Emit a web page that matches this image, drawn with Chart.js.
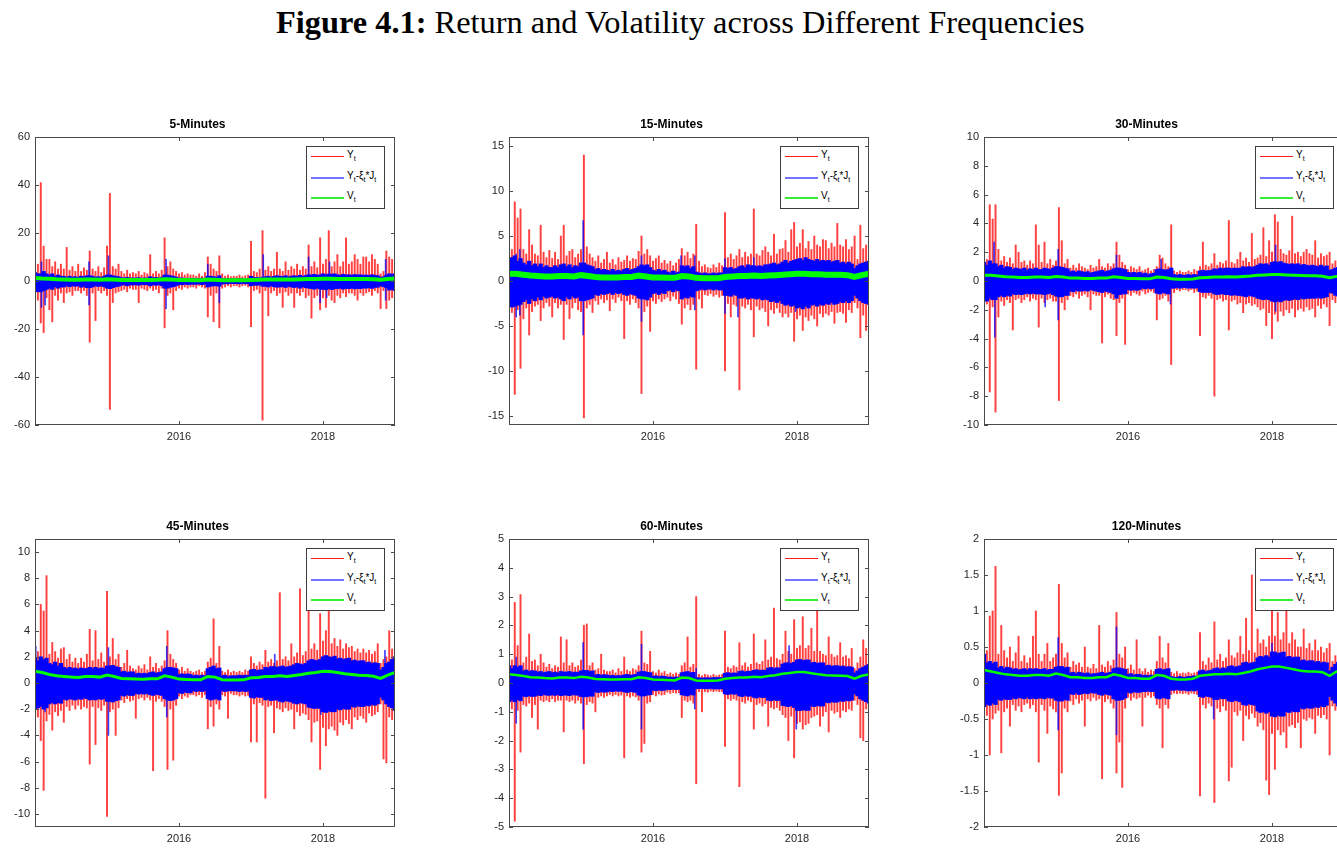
<!DOCTYPE html>
<html>
<head>
<meta charset="utf-8">
<title>Return and Volatility across Different Frequencies</title>
<script src="https://cdn.jsdelivr.net/npm/chart.js@4.4.1/dist/chart.umd.min.js"></script>
<style>
  html, body { margin: 0; padding: 0; background: #fff; width: 1337px; height: 851px; overflow: hidden; }
  #figTitle { position: absolute; top: 4px; left: 276px; white-space: nowrap; font-family: "Liberation Serif", "DejaVu Serif", serif; font-size: 28px; color: #000; }
  .panel { position: absolute; }
  .legend { position: absolute; width: 79px; height: 63px; box-sizing: border-box; border: 1px solid #3c3c3c; background: #fff;
            font-family: "Liberation Sans", Arial, sans-serif; font-size: 10px; color: #000; }
  .legend .row { position: absolute; left: 4px; right: 0; height: 12px; }
  .legend .ln { position: absolute; left: 0; width: 33px; top: 5px; }
  .legend .tx { position: absolute; left: 36px; top: -2px; white-space: nowrap; }
  .legend sub { font-size: 7px; vertical-align: -3px; line-height: 0; }
</style>
</head>
<body>
<div id="figTitle"><b>Figure 4.1:</b> Return and Volatility across Different Frequencies</div>
<script>
// volatility line sample dates (decimal years)
const sampleYears = [
  2014.0, 2014.1, 2014.2, 2014.3, 2014.4, 2014.5, 2014.6, 2014.7, 2014.8, 2014.9,
  2015.0, 2015.1, 2015.2, 2015.3, 2015.4, 2015.5, 2015.6, 2015.7, 2015.8, 2015.9,
  2016.0, 2016.1, 2016.2, 2016.3, 2016.4, 2016.5, 2016.6, 2016.7, 2016.8, 2016.9,
  2017.0, 2017.1, 2017.2, 2017.3, 2017.4, 2017.5, 2017.6, 2017.7, 2017.8, 2017.9,
  2018.0, 2018.1, 2018.2, 2018.3, 2018.4, 2018.5, 2018.6, 2018.7, 2018.8, 2018.9,
  2019.0
];
// bin dates for the return series (each bin drawn as its min..max range)
const binYears = [
  2014.00, 2014.04, 2014.08, 2014.12, 2014.16,  2014.20, 2014.24, 2014.28, 2014.32, 2014.36,
  2014.40, 2014.44, 2014.48, 2014.52, 2014.56,  2014.60, 2014.64, 2014.68, 2014.72, 2014.76,
  2014.80, 2014.84, 2014.88, 2014.92, 2014.96,  2015.00, 2015.04, 2015.08, 2015.12, 2015.16,
  2015.20, 2015.24, 2015.28, 2015.32, 2015.36,  2015.40, 2015.44, 2015.48, 2015.52, 2015.56,
  2015.60, 2015.64, 2015.68, 2015.72, 2015.76,  2015.80, 2015.84, 2015.88, 2015.92, 2015.96,
  2016.00, 2016.04, 2016.08, 2016.12, 2016.16,  2016.20, 2016.24, 2016.28, 2016.32, 2016.36,
  2016.40, 2016.44, 2016.48, 2016.52, 2016.56,  2016.60, 2016.64, 2016.68, 2016.72, 2016.76,
  2016.80, 2016.84, 2016.88, 2016.92, 2016.96,  2017.00, 2017.04, 2017.08, 2017.12, 2017.16,
  2017.20, 2017.24, 2017.28, 2017.32, 2017.36,  2017.40, 2017.44, 2017.48, 2017.52, 2017.56,
  2017.60, 2017.64, 2017.68, 2017.72, 2017.76,  2017.80, 2017.84, 2017.88, 2017.92, 2017.96,
  2018.00, 2018.04, 2018.08, 2018.12, 2018.16,  2018.20, 2018.24, 2018.28, 2018.32, 2018.36,
  2018.40, 2018.44, 2018.48, 2018.52, 2018.56,  2018.60, 2018.64, 2018.68, 2018.72, 2018.76,
  2018.80, 2018.84, 2018.88, 2018.92, 2018.96,  2019.00
];
const xTickYears = [2016, 2018];
const panelTitles = ['5-Minutes', '15-Minutes', '30-Minutes', '45-Minutes', '60-Minutes', '120-Minutes'];

// ---------- 5 minutes ----------
const m5_yTicks = [-60, -40, -20, 0, 20, 40, 60];
const m5_redMax = [10,7,41,14.5,9, 9,6,8,5,7, 5,14,4.5,6,4, 7,4,5.5,4.5,12.5, 5,4,6,3.5,5.5, 14.5,36.5,6,5,7,
  4,3,4.5,3,3.5, 3,4,2.5,3.5,3, 11,3,4,3,4.5, 18,6,8,5,4, 3,3.5,2.5,3,2.5, 2.5,2,3,2,3.5,
  10,7,5,4,10.5, 3,2,2.5,1.8,2, 2,2.5,1.8,2.2,2.5, 16.5,4,3.5,5,21, 4.5,6,4,5,12, 5,4,8,4.5,6,
  5,7,4.5,6,5, 15,6,8,5.5,18, 7,9,21,6,8, 11,6,8,18,7, 8,11,9,7,10, 10,8,11,9,7, 3,4,12.5,10,9, 8];
const m5_redMin = [-9,-8,-17.5,-21.5,-7, -12,-17,-6,-8,-5, -9,-5,-4.5,-6,-4, -4,-5,-4,-6,-25.5, -5,-16.5,-4,-5,-4, -6,-53.5,-9,-5,-4.5,
  -4,-3.5,-4.5,-3,-3.5, -3.5,-9,-3,-3.5,-4, -3,-4,-3.5,-5,-3, -19.5,-6,-5,-12,-4, -3,-3.5,-2.5,-3,-2.5, -2.5,-3,-2,-2.5,-3,
  -15,-6,-17,-5,-19.5, -3,-2.5,-2,-2.5,-2, -2,-2.5,-2,-1.8,-2.5, -19,-4,-3.5,-5,-58, -4,-14.5,-5,-4,-6, -5,-11,-4.5,-6,-5,
  -11,-5,-6,-4.5,-7, -6,-15.5,-7,-6,-12, -7,-11,-6,-8,-9, -6,-7,-5,-6.5,-5, -5,-6,-8,-5,-6, -5,-4.5,-6,-4,-5, -11.5,-4,-11.5,-8,-7, -10];
const m5_blueMax = [3.5,3,3,4,3, 2.5,3,2,2.5,2, 2,1.5,2,1.6,1.8, 1.5,2,1.8,2.2,2.2, 2,1.6,1.8,1.5,2, 2.5,2.5,2.2,2,1.8,
  1.4,1.2,1.5,1.2,1.3, 1.2,1.4,1,1.3,1.2, 1.8,1.3,1.5,1.2,1.6, 2.5,2.5,2.2,2,1.6, 1.2,1.3,1,1.2,1.1, 1,1.1,0.9,1.2,1,
  2,2,1.8,1.6,2.2, 1,0.9,1,0.8,0.9, 0.9,1,0.8,0.9,1, 2,1.4,1.5,1.3,1.6, 1.8,2,1.6,1.9,2.2, 2,1.8,2.2,1.7,2,
  2.2,2,2.4,1.9,2.3, 2.6,2.5,2.8,2.4,2.6, 3,2.6,2.9,2.8,3, 2.6,2.4,2.8,2.5,2.6, 2.4,2.7,2.5,2.6,2.3, 2.5,2.3,2.6,2.4,2.2, 1.5,1.8,2.4,3,2.8, 3];
const m5_blueMin = [-4,-4.5,-4.5,-4,-3.5, -3,-3.5,-2.5,-3,-2.5, -2.5,-2,-2.4,-2,-2.2, -2,-2.6,-2.2,-2.8,-2.8, -2.5,-2,-2.3,-2,-2.4, -3,-3.2,-2.8,-2.4,-2.2,
  -1.8,-1.5,-2,-1.6,-1.7, -1.5,-1.8,-1.4,-1.6,-1.5, -2,-1.6,-1.8,-1.5,-2, -3,-3,-2.6,-2.4,-2, -1.5,-1.6,-1.3,-1.5,-1.4, -1.3,-1.4,-1.2,-1.5,-1.3,
  -2.5,-2.2,-2,-2,-2.2, -1.3,-1.1,-1.2,-1,-1.1, -1.1,-1.2,-1,-1.1,-1.2, -2,-1.7,-1.8,-1.6,-2.2, -2.2,-2.5,-2,-2.4,-2.6, -2.5,-2.3,-2.7,-2.2,-2.5,
  -2.7,-2.5,-3,-2.4,-2.8, -3,-3.2,-3.4,-3,-3.3, -3.5,-3.6,-3.2,-3.6,-3.3, -3.2,-3,-3.4,-3.1,-3.2, -3,-3.3,-3.1,-3.2,-2.9, -3,-2.8,-3.1,-2.7,-2.6, -2,-2.4,-2.8,-3.8,-3.5, -4];
const m5_blueSpikes = [[2014.09,8],[2014.75,8],[2015.02,10.5],[2015.82,9],[2016.4,7],[2017.17,11],[2017.8,10],[2018.09,8],[2018.87,9],
  [2014.09,-11],[2014.14,-10],[2014.75,-10],[2015.82,-11.5],[2016.56,-9],[2017.96,-9],[2018.05,-7],[2018.87,-8]];
const m5_vol = [1.2,1,0.9,0.7,0.6,0.5,0.5,0.6,0.6,0.5, 0.7,0.6,0.4,0.4,0.4,0.4,0.4,0.5,0.7,0.6, 0.4,0.4,0.3,0.3,0.6,0.5,0.3,0.3,0.3,0.3, 0.4,0.5,0.6,0.6,0.6,0.6,0.6,0.7,0.8,0.8, 0.9,0.9,0.8,0.8,0.8,0.8,0.8,0.7,0.5,0.8, 1];

// ---------- 15 minutes ----------
const m15_yTicks = [-15, -10, -5, 0, 5, 10, 15];
const m15_redMax = [5.2,3.5,8.8,7,8, 3.5,3,5.7,4,3, 2.8,6.2,3.2,2.6,3.4, 2.5,3.2,2.4,5,6.2, 2.8,3.3,3.5,2.6,3, 3.5,14,3.8,3,2.6,
  2.2,2.8,2,2.4,3.2, 2,2.4,1.8,2.6,2.1, 2.3,2.8,2.2,2.5,2.4, 3.3,5,3,3.5,2.8, 2.2,2.5,2.8,2,2.3, 1.9,2.2,1.7,2,2.4,
  3.6,2.8,3.2,2.5,3, 6.3,2.2,1.6,1.8,1.5, 1.4,1.8,1.5,2,1.7, 7.6,2.6,3,2.4,2.8, 3.5,2.6,3.2,2.7,3, 8,3,2.8,3.4,3.8,
  3.2,2.8,5.2,3,3.5, 3.6,4.5,3.2,5.7,6.5, 3.8,4.2,5.7,3.6,4.4, 3.5,5,4,3.8,4.6, 4.5,3.6,4.2,3.8,6.4, 4,3.8,4.6,3.5,3.8, 5,2.4,6.2,3.6,4, 5.8];
const m15_redMin = [-3.5,-3.5,-12.6,-3.2,-9.7, -4.2,-3,-6,-3.4,-2.8, -2.6,-4.4,-3,-2.4,-2.8, -4,-2.4,-3,-2.6,-6.5, -2.6,-4.2,-3,-2.4,-3.2, -3.4,-15.2,-3,-2.6,-3.5,
  -2.2,-2.6,-2,-2.4,-2.1, -3.3,-2,-2.4,-1.8,-2.2, -6.4,-2.2,-2.6,-2,-2.4, -3,-12.5,-3.4,-2.8,-5.6, -2.2,-2.5,-2,-2.3,-2, -1.8,-2.2,-1.7,-2,-2.5,
  -4.8,-3,-2.6,-3.2,-2.6, -9.8,-2,-3,-1.5,-1.6, -1.4,-1.7,-1.5,-1.8,-1.6, -10,-2.5,-4,-2.6,-2.8, -12.1,-2.8,-3,-2.6,-3.2, -6.2,-2.8,-3.2,-3,-3.4,
  -5,-3.2,-3.6,-3,-3.5, -4,-3.6,-4,-3.5,-6.7, -4.2,-3.8,-5.5,-4,-4.4, -3.8,-4.2,-5,-3.6,-4, -3.6,-3.8,-3.4,-4.7,-3.5, -3.4,-3.6,-4.6,-3.2,-3.5, -2.4,-3,-6.3,-3.8,-5.5, -4.5];
const m15_blueMax = [2.4,2.6,2.8,2.2,2.5, 2,1.8,2.2,1.7,1.9, 1.6,1.9,1.5,1.7,1.5, 1.5,1.7,1.5,1.8,1.9, 1.6,1.8,1.5,1.7,1.6, 2,2,1.8,1.7,1.6,
  1.3,1.4,1.2,1.3,1.2, 1.1,1.3,1.1,1.2,1.1, 1.3,1.4,1.2,1.3,1.4, 1.6,1.8,1.7,1.8,1.5, 1.2,1.1,1.3,1.1,1.2, 1,0.9,1.1,0.9,1,
  1.7,1.6,1.7,1.4,1.6, 1,0.9,0.8,0.9,0.8, 0.8,0.9,0.8,0.9,0.9, 1.5,1.4,1.5,1.3,1.4, 1.6,1.7,1.5,1.8,1.7, 1.7,1.6,1.7,1.6,1.8,
  1.8,1.9,2,1.8,1.9, 2.1,2.3,2,2.2,2.3, 2.4,2.5,2.3,2.6,2.4, 2.3,2.2,2.4,2.2,2.3, 2.2,2.3,2.1,2.2,2.3, 2,2.1,1.9,2.1,1.9, 1.4,1.7,1.9,2,2.1, 2.2];
const m15_blueMin = [-2.6,-2.9,-2.8,-2.7,-2.6, -2.3,-2.1,-2.5,-2,-2.2, -1.8,-2.1,-1.7,-1.9,-1.8, -1.7,-1.9,-1.8,-2,-2.2, -1.8,-2,-1.7,-1.9,-1.8, -2.2,-2.2,-2.1,-2,-1.9,
  -1.5,-1.6,-1.4,-1.5,-1.4, -1.3,-1.5,-1.3,-1.4,-1.3, -1.5,-1.6,-1.4,-1.5,-1.6, -1.9,-2,-2,-2.1,-1.8, -1.4,-1.3,-1.5,-1.3,-1.4, -1.1,-1,-1.2,-1,-1.1,
  -2,-1.8,-1.9,-1.7,-1.8, -1.1,-1,-0.9,-1,-0.9, -0.9,-1,-0.9,-1,-1, -1.6,-1.6,-1.7,-1.5,-1.6, -1.9,-1.9,-1.8,-2,-1.9, -1.9,-2,-1.9,-2.1,-2,
  -2.1,-2.3,-2.2,-2.4,-2.2, -2.5,-2.7,-2.6,-2.8,-2.7, -3,-2.9,-3.1,-2.8,-3, -2.7,-2.6,-2.8,-2.6,-2.7, -2.5,-2.6,-2.4,-2.6,-2.5, -2.3,-2.4,-2.2,-2.4,-2.2, -1.6,-1.9,-2.2,-2.4,-2.5, -2.6];
const m15_blueSpikes = [[2014.1,3],[2014.15,3.5],[2015.03,6.7],[2015.84,2.8],[2016.39,2.8],[2016.58,2.8],[2017.0,2.5],[2017.4,2.6],
  [2014.1,-4],[2014.15,-3.8],[2015.03,-6],[2015.84,-4.5],[2016.58,-3.2],[2017.0,-3.6],[2017.18,-4],[2017.98,-3.4]];
const m15_vol = [0.8,0.8,0.7,0.6,0.55,0.5,0.5,0.55,0.55,0.5, 0.65,0.55,0.45,0.4,0.4,0.4,0.45,0.45,0.6,0.5, 0.4,0.4,0.35,0.35,0.55,0.5,0.35,0.3,0.3,0.3, 0.45,0.5,0.55,0.55,0.6,0.55,0.6,0.65,0.7,0.75, 0.8,0.8,0.75,0.75,0.7,0.7,0.7,0.65,0.45,0.65, 0.8];

// ---------- 30 minutes ----------
const m30_yTicks = [-10, -8, -6, -4, -2, 0, 2, 4, 6, 8, 10];
const m30_redMax = [1.8,1.5,5.3,4.3,5.3, 2.2,1.4,1.7,1.3,1.6, 1.2,2.5,2,1.3,1.4, 1.1,1.4,1.2,3.9,2.5, 1.3,2.7,1.2,1.5,1.1, 1.4,5.1,2.8,1.2,1.5,
  0.9,1.1,0.9,1.2,1, 0.9,0.8,1.1,0.9,1, 1.5,1,0.9,1.2,1, 1.2,2.7,1.8,1.3,1.1, 0.8,1,0.9,0.8,1, 0.7,0.8,0.9,0.7,0.8,
  1,1.8,1.6,1.2,1, 3.9,0.7,0.6,0.7,0.6, 0.6,0.7,0.6,0.8,0.7, 1,2.7,1.1,1,1.2, 1.9,1.1,1.3,1.2,1.4, 4.2,1.3,1.2,1.5,2,
  1.4,1.6,1.3,3.3,1.5, 1.6,1.8,3.7,1.7,2.8, 2,4.6,4.1,2.2,1.9, 1.8,2.1,4.5,1.9,2, 1.7,2,2.2,1.9,1.8, 2.8,1.6,1.9,1.7,1.8, 2,1.2,1.4,1.5,1.7, 1.8];
const m30_redMin = [-2.6,-1.6,-7.7,-1.8,-9.1, -2.5,-1.4,-1.7,-1.3,-1.5, -3.4,-1.3,-1.2,-1.5,-1.3, -1.1,-1.4,-1.2,-1.3,-3.2, -1.2,-1.5,-1.3,-1.2,-1.4, -1.4,-8.3,-1.5,-2,-1.3,
  -1,-1.1,-0.9,-1.2,-1, -0.9,-1.1,-2,-0.9,-1, -1,-4.3,-1.1,-0.9,-1.2, -1.3,-3.8,-1.5,-1.2,-4.4, -0.9,-1,-0.8,-0.9,-1, -0.7,-0.9,-0.8,-0.7,-0.8,
  -2.7,-1.3,-1.2,-1,-1.4, -5.8,-0.8,-0.6,-0.7,-0.6, -0.6,-0.7,-0.6,-0.8,-0.7, -3.8,-1.1,-1.2,-1,-1.2, -8,-1.3,-1.2,-1.4,-1.3, -3.4,-1.4,-1.3,-1.6,-1.5,
  -2.2,-1.6,-1.5,-1.7,-1.6, -1.8,-2,-1.9,-3.1,-2.2, -4,-2.3,-2.8,-2.1,-2.4, -2,-2.2,-1.9,-2.5,-2, -1.9,-2.1,-1.8,-2,-1.9, -2.5,-1.7,-1.9,-1.6,-1.8, -3.1,-1.3,-1.5,-1.7,-3.7, -1.9];
const m30_blueMax = [1.3,1.1,1.4,1.2,1.2, 1,1.1,0.9,1,0.95, 0.8,0.9,0.85,0.8,0.9, 0.75,0.85,0.8,0.9,0.8, 0.8,0.9,0.85,0.8,0.9, 1,1,0.95,0.9,0.85,
  0.65,0.7,0.6,0.7,0.65, 0.6,0.65,0.55,0.6,0.65, 0.7,0.75,0.65,0.7,0.75, 0.85,0.9,0.9,0.85,0.8, 0.6,0.55,0.6,0.55,0.6, 0.5,0.55,0.45,0.5,0.55,
  0.8,0.85,0.8,0.75,0.8, 0.9,0.45,0.4,0.45,0.4, 0.4,0.45,0.4,0.45,0.42, 0.7,0.75,0.7,0.72,0.75, 0.85,0.8,0.9,0.85,0.9, 0.9,0.85,0.9,0.88,0.9,
  1,0.95,1,0.95,1, 1.1,1.2,1.15,1.2,1.1, 1.3,1.35,1.3,1.35,1.25, 1.2,1.15,1.2,1.15,1.2, 1.1,1.15,1.1,1.05,1.1, 1.05,1,1.1,1,1.05, 0.75,0.8,0.9,0.95,1.1, 1.2];
const m30_blueMin = [-1.3,-1.4,-1.2,-1.3,-1.3, -1.1,-1,-1.1,-1,-1.05, -0.9,-0.95,-0.9,-0.95,-0.9, -0.85,-0.9,-0.85,-0.9,-0.9, -0.9,-0.95,-0.9,-0.85,-0.95, -1.05,-1.1,-1.1,-1,-1,
  -0.7,-0.75,-0.65,-0.7,-0.7, -0.65,-0.7,-0.6,-0.65,-0.7, -0.75,-0.8,-0.7,-0.75,-0.8, -0.9,-1.2,-0.95,-0.9,-0.9, -0.6,-0.65,-0.6,-0.65,-0.6, -0.5,-0.55,-0.5,-0.55,-0.5,
  -0.85,-0.9,-0.8,-0.85,-0.9, -0.5,-0.5,-0.45,-0.5,-0.45, -0.45,-0.5,-0.48,-0.5,-0.48, -0.75,-0.8,-0.78,-0.8,-0.78, -0.9,-0.95,-0.9,-0.9,-0.95, -0.95,-1,-0.95,-1,-1,
  -1.05,-1.1,-1,-1.05,-1.1, -1.2,-1.25,-1.3,-1.25,-1.3, -1.4,-1.45,-1.4,-1.45,-1.35, -1.3,-1.35,-1.3,-1.25,-1.3, -1.2,-1.25,-1.2,-1.2,-1.2, -1.2,-1.15,-1.2,-1.15,-1.1, -0.8,-0.85,-1,-1.05,-1.2, -1.3];
const m30_blueSpikes = [[2014.14,2.7],[2015.03,2.2],[2015.84,1.8],[2016.46,1.5],[2018.05,2.5],
  [2014.15,-3.9],[2014.85,-1.8],[2015.03,-2.7],[2016.59,-1.6],[2018.05,-2.1]];
const m30_vol = [0.4,0.4,0.35,0.3,0.28,0.25,0.25,0.28,0.28,0.25, 0.32,0.28,0.2,0.2,0.18,0.18,0.2,0.2,0.3,0.25, 0.18,0.17,0.16,0.15,0.27,0.24,0.15,0.13,0.13,0.14, 0.22,0.25,0.28,0.28,0.3,0.28,0.32,0.35,0.4,0.42, 0.45,0.45,0.42,0.4,0.38,0.37,0.36,0.33,0.22,0.32, 0.4];

// ---------- 45 minutes ----------
const m45_yTicks = [-10, -8, -6, -4, -2, 0, 2, 4, 6, 8, 10];
const m45_redMax = [3.6,2.4,6,5.5,8.2, 2.2,3.1,2.4,1.9,2.6, 2.7,1.8,2.2,1.6,1.9, 1.5,1.9,1.6,2.2,4.1, 1.7,4,1.8,2.3,1.6, 7,2,3.4,1.8,2.2,
  1.2,1.5,2.5,1.3,1.1, 1,1.3,1.1,1.4,1, 2,1.2,1.5,1.1,1.3, 1.7,4,2.2,1.8,1.5, 1,1.2,0.9,1.1,0.9, 0.8,0.9,1,0.8,0.9,
  1.6,1.9,4.9,1.5,2.8, 0.9,0.8,1,0.8,0.9, 0.8,0.9,0.8,1,0.9, 2,1.5,1.3,1.6,1.4, 2.5,1.6,1.8,1.5,1.7, 6.9,1.8,2,1.7,3,
  2,2.3,7.2,2.1,2.4, 6,2.6,3,2.5,5.3, 3.2,4,6.6,3,3.4, 2.8,3.3,2.6,3,2.7, 2.8,2.4,2.6,2.3,2.6, 2.3,2.5,2.2,2.4,3, 1.5,1.8,2,4,2.6, 4];
const m45_redMin = [-2.7,-2.6,-4.4,-8.2,-2.9, -2.4,-3.6,-2.2,-2.5,-2.1, -3,-1.8,-2.1,-1.7,-2, -1.7,-2,-1.8,-1.9,-6.2, -1.8,-4.7,-1.9,-2.1,-1.7, -10.2,-2.2,-2,-4,-1.9,
  -1.3,-1.5,-1.2,-1.4,-1.3, -2.7,-1.2,-1.1,-1.3,-1.1, -1.3,-6.7,-1.4,-1.2,-1.4, -1.8,-6.6,-2,-5.9,-1.7, -1,-1.2,-1,-1.1,-0.9, -0.9,-1,-0.9,-1.1,-0.9,
  -3.5,-1.8,-3.3,-1.6,-2, -0.9,-1,-2.7,-0.8,-0.9, -0.9,-1,-0.9,-1,-0.95, -4.5,-1.6,-4.5,-1.5,-1.7, -8.8,-1.8,-1.7,-3.8,-1.9, -2,-2.2,-1.9,-2.1,-2,
  -3.5,-2.2,-2.5,-2.3,-2.4, -2.8,-4.5,-3,-2.9,-6.6, -3.4,-4.8,-3.5,-3.3,-3.6, -4,-3,-3.2,-2.8,-3.1, -3.5,-2.6,-2.8,-2.5,-2.7, -3,-2.3,-2.5,-2.4,-2.2, -1.6,-5.8,-6.1,-2.6,-2.8, -3];
const m45_blueMax = [1.9,1.7,2,1.8,1.9, 1.5,1.4,1.6,1.3,1.5, 1.2,1.1,1.2,1.1,1.15, 1.05,1.15,1.1,1.1,1.2, 1.1,1.2,1.1,1.15,1.1, 1.3,1.3,1.35,1.25,1.2,
  0.85,0.9,0.8,0.85,0.85, 0.7,0.75,0.7,0.75,0.7, 0.8,0.85,0.75,0.8,0.85, 1.1,1.2,1.2,1.15,1.1, 0.65,0.7,0.65,0.7,0.65, 0.55,0.6,0.55,0.6,0.55,
  1.1,1.2,1.3,1.1,1.15, 0.55,0.6,0.5,0.55,0.55, 0.55,0.6,0.55,0.6,0.58, 1,1.05,0.95,1,1, 1.2,1.15,1.25,1.25,1.2, 1.25,1.3,1.2,1.25,1.3,
  1.4,1.5,1.45,1.4,1.5, 1.7,1.8,1.75,1.7,1.8, 2,2.1,2,1.95,2.05, 1.85,1.9,1.8,1.85,1.9, 1.7,1.75,1.65,1.7,1.7, 1.55,1.6,1.5,1.55,1.5, 1,1.2,1.5,1.6,1.8, 2];
const m45_blueMin = [-2,-1.9,-1.8,-2,-1.9, -1.6,-1.5,-1.6,-1.5,-1.55, -1.25,-1.3,-1.2,-1.25,-1.3, -1.2,-1.25,-1.15,-1.2,-1.3, -1.25,-1.3,-1.2,-1.25,-1.2, -1.4,-1.4,-1.45,-1.35,-1.3,
  -0.95,-1,-0.9,-0.95,-0.95, -0.8,-0.85,-0.8,-0.85,-0.8, -0.9,-0.95,-0.85,-0.9,-0.95, -1.2,-1.3,-1.35,-1.3,-1.2, -0.75,-0.8,-0.7,-0.75,-0.75, -0.6,-0.65,-0.6,-0.65,-0.6,
  -1.2,-1.3,-1.25,-1.2,-1.3, -0.6,-0.65,-0.6,-0.6,-0.6, -0.6,-0.65,-0.6,-0.65,-0.62, -1.1,-1.15,-1.05,-1.1,-1.1, -1.3,-1.25,-1.35,-1.3,-1.3, -1.4,-1.45,-1.35,-1.4,-1.45,
  -1.55,-1.6,-1.5,-1.55,-1.6, -1.85,-1.9,-1.95,-1.9,-1.95, -2.2,-2.25,-2.15,-2.2,-2.2, -2,-2.05,-1.95,-2,-2, -1.8,-1.85,-1.75,-1.8,-1.8, -1.7,-1.75,-1.65,-1.7,-1.6, -1.1,-1.3,-1.6,-1.8,-1.9, -2.1];
const m45_blueSpikes = [[2014.01,2.8],[2015.02,2.7],[2015.83,2.8],[2017.33,2.2],[2018.08,2],[2018.86,2.5],
  [2014.14,-2.2],[2015.02,-4],[2015.83,-2.6],[2017.97,-2.4]];
const m45_vol = [0.9,0.8,0.65,0.55,0.5,0.45,0.42,0.5,0.5,0.45, 0.6,0.5,0.35,0.32,0.3,0.28,0.32,0.32,0.55,0.45, 0.3,0.27,0.25,0.24,0.5,0.45,0.25,0.22,0.22,0.24, 0.4,0.42,0.5,0.5,0.55,0.5,0.58,0.65,0.75,0.8, 0.9,0.88,0.8,0.7,0.65,0.6,0.58,0.52,0.35,0.6, 0.8];

// ---------- 60 minutes ----------
const m60_yTicks = [-5, -4, -3, -2, -1, 0, 1, 2, 3, 4, 5];
const m60_redMax = [1.2,0.8,2.8,1.3,3.07, 0.7,0.9,1.7,0.75,0.8, 0.6,1,0.7,0.55,0.65, 0.5,0.6,0.55,1.6,0.7, 1.5,0.6,0.7,0.55,0.6, 0.8,2,2.05,0.6,0.7,
  0.45,0.5,1,0.45,0.4, 0.4,0.45,0.35,0.5,0.4, 0.9,0.45,0.4,0.5,0.45, 0.6,1.8,0.7,0.65,1.1, 0.4,0.35,0.45,0.35,0.4, 0.3,0.35,0.3,0.35,0.3,
  0.6,0.7,1.6,0.55,0.65, 3,0.3,0.25,0.3,0.28, 0.25,0.3,0.25,0.28,0.3, 1.8,0.55,0.5,0.6,0.55, 1.4,0.6,0.7,0.55,0.65, 1.7,0.7,0.65,0.75,1.5,
  0.8,0.9,2.6,0.85,0.8, 1,1.8,1.1,1,2.2, 1.2,1.3,2.3,1.2,1.3, 1.9,1.1,2.9,1.1,1, 0.95,1.6,1,0.9,0.95, 1.4,0.9,0.95,0.85,1.2, 0.5,0.7,0.9,1.5,1.2, 1.5];
const m60_redMin = [-1.5,-0.9,-4.8,-0.95,-2.4, -0.75,-0.8,-0.7,-1.2,-0.75, -1.6,-0.6,-0.65,-0.6,-0.65, -0.55,-0.65,-0.6,-0.6,-1.7, -0.6,-0.65,-0.6,-0.7,-0.6, -0.7,-2.8,-0.75,-0.65,-0.7,
  -1,-0.5,-0.45,-0.5,-0.45, -0.4,-0.45,-0.4,-0.45,-0.42, -2.6,-0.45,-0.5,-0.45,-0.48, -0.6,-2.4,-2.1,-0.7,-0.65, -0.4,-0.45,-0.38,-0.42,-0.4, -0.32,-0.36,-0.33,-0.35,-0.34,
  -1.2,-0.6,-0.65,-0.6,-0.7, -3.5,-0.3,-1,-0.3,-0.32, -0.28,-0.3,-0.28,-0.3,-0.3, -2.2,-0.55,-0.6,-0.55,-0.6, -3.6,-0.65,-0.7,-0.6,-0.65, -1.6,-0.75,-0.7,-0.8,-0.72,
  -1.5,-0.85,-0.9,-0.85,-0.95, -1.1,-1.2,-2,-1.15,-2.6, -1.4,-1.35,-1.6,-1.45,-1.4, -1.2,-1.15,-1.1,-1.5,-1.15, -1,-1.7,-0.95,-1.05,-1, -1.2,-0.95,-1,-0.9,-0.95, -0.6,-0.75,-1.9,-2,-0.9, -1.4];
const m60_blueMax = [0.6,0.5,0.6,0.55,0.6, 0.42,0.45,0.4,0.43,0.42, 0.38,0.4,0.36,0.38,0.4, 0.36,0.38,0.35,0.4,0.38, 0.38,0.4,0.36,0.38,0.37, 0.42,0.44,0.44,0.4,0.42,
  0.28,0.3,0.27,0.29,0.28, 0.25,0.27,0.24,0.26,0.25, 0.28,0.3,0.27,0.28,0.3, 0.38,0.4,0.4,0.37,0.36, 0.23,0.25,0.22,0.24,0.23, 0.2,0.21,0.19,0.21,0.2,
  0.36,0.38,0.4,0.36,0.37, 0.18,0.18,0.17,0.18,0.18, 0.17,0.19,0.18,0.19,0.18, 0.34,0.36,0.33,0.35,0.34, 0.4,0.42,0.38,0.41,0.4, 0.44,0.46,0.43,0.45,0.44,
  0.52,0.54,0.5,0.53,0.52, 0.66,0.7,0.7,0.68,0.72, 0.8,0.82,0.78,0.8,0.8, 0.7,0.72,0.68,0.7,0.7, 0.6,0.62,0.58,0.6,0.6, 0.57,0.59,0.55,0.57,0.55, 0.35,0.42,0.5,0.55,0.6, 0.65];
const m60_blueMin = [-0.65,-0.6,-0.65,-0.58,-0.62, -0.46,-0.48,-0.44,-0.47,-0.46, -0.42,-0.44,-0.4,-0.42,-0.43, -0.41,-0.43,-0.4,-0.44,-0.42, -0.42,-0.44,-0.4,-0.42,-0.42, -0.47,-0.48,-0.48,-0.45,-0.46,
  -0.31,-0.33,-0.3,-0.32,-0.31, -0.28,-0.3,-0.27,-0.29,-0.28, -0.31,-0.33,-0.3,-0.31,-0.33, -0.42,-0.45,-0.45,-0.42,-0.41, -0.25,-0.27,-0.24,-0.26,-0.25, -0.22,-0.23,-0.21,-0.23,-0.22,
  -0.41,-0.43,-0.45,-0.4,-0.42, -0.2,-0.2,-0.19,-0.2,-0.2, -0.19,-0.21,-0.2,-0.21,-0.2, -0.38,-0.4,-0.37,-0.39,-0.38, -0.45,-0.47,-0.43,-0.46,-0.45, -0.5,-0.52,-0.48,-0.51,-0.5,
  -0.6,-0.62,-0.58,-0.61,-0.6, -0.78,-0.8,-0.82,-0.79,-0.85, -0.95,-0.96,-0.93,-0.95,-0.95, -0.8,-0.82,-0.78,-0.8,-0.8, -0.67,-0.69,-0.65,-0.67,-0.66, -0.62,-0.64,-0.6,-0.62,-0.6, -0.38,-0.45,-0.55,-0.6,-0.65, -0.7];
const m60_blueSpikes = [[2014.1,0.9],[2015.03,1.4],[2015.84,1.35],[2016.6,0.5],[2017.89,1.3],
  [2014.1,-1.4],[2015.03,-1.6],[2015.84,-1.6],[2016.58,-0.9],[2017.99,-1.6]];
const m60_vol = [0.3,0.28,0.24,0.2,0.19,0.17,0.16,0.19,0.19,0.17, 0.22,0.19,0.14,0.13,0.12,0.12,0.13,0.13,0.2,0.17, 0.12,0.11,0.1,0.09,0.19,0.17,0.09,0.08,0.08,0.09, 0.15,0.17,0.19,0.19,0.22,0.2,0.24,0.27,0.32,0.35, 0.38,0.38,0.34,0.3,0.27,0.26,0.25,0.24,0.15,0.25, 0.3];

// ---------- 120 minutes ----------
const m120_yTicks = [-2, -1.5, -1, -0.5, 0, 0.5, 1, 1.5, 2];
const m120_redMax = [0.7,0.45,0.93,1,1.62, 0.4,0.8,0.45,0.35,0.5, 0.3,0.42,0.65,0.3,0.38, 0.28,0.35,0.65,1,0.4, 0.3,0.4,0.55,0.3,0.35, 0.4,1.37,0.55,0.35,0.42,
  0.22,0.3,0.25,0.28,0.22, 0.5,0.22,0.2,0.26,0.2, 0.8,0.25,0.22,0.3,0.24, 0.32,0.98,0.4,0.35,0.5, 0.2,0.25,0.18,0.6,0.2, 0.16,0.2,0.15,0.18,0.16,
  0.3,0.65,0.35,0.28,0.55, 0.15,0.13,0.16,0.13,0.14, 0.13,0.15,0.13,0.14,0.15, 0.7,0.3,0.25,0.35,0.28, 0.85,0.32,0.4,0.3,0.35, 0.6,0.38,0.35,0.42,0.65,
  0.4,0.9,0.45,1.5,0.42, 0.75,0.55,0.6,0.5,0.65, 1,0.65,0.98,0.6,0.7, 1.05,0.55,0.7,0.6,0.5, 0.5,0.75,0.48,0.55,0.45, 0.6,0.45,0.5,0.42,0.48, 0.55,0.3,0.38,0.45,0.95, 0.5];
const m120_redMin = [-0.78,-0.45,-1,-0.5,-0.42, -0.38,-0.97,-0.4,-0.35,-0.6, -0.3,-0.38,-0.32,-0.4,-0.3, -0.28,-0.35,-0.3,-0.4,-1.1, -0.3,-0.38,-0.7,-0.32,-0.36, -0.4,-1.56,-1.25,-0.35,-0.4,
  -0.25,-0.3,-0.22,-0.28,-0.24, -0.6,-0.22,-0.25,-0.2,-0.24, -0.22,-1.33,-0.26,-0.22,-0.28, -0.35,-1.25,-0.82,-1.45,-0.35, -0.2,-0.24,-0.2,-0.22,-0.2, -0.6,-0.2,-0.17,-0.2,-0.18,
  -0.3,-0.35,-0.9,-0.3,-0.35, -0.16,-0.14,-0.15,-0.14,-0.15, -0.14,-0.16,-0.14,-0.15,-0.16, -1.57,-0.3,-0.35,-0.28,-0.32, -1.66,-0.35,-0.4,-0.32,-0.38, -1.36,-1.17,-0.4,-0.45,-0.38,
  -0.8,-0.45,-0.5,-0.42,-0.48, -0.6,-0.55,-0.65,-1.35,-1.55, -0.7,-1.2,-0.65,-0.72,-0.68, -0.9,-0.6,-0.58,-0.62,-0.55, -0.9,-0.5,-0.52,-0.48,-0.5, -0.7,-0.45,-0.48,-0.44,-0.5, -1,-0.32,-0.38,-0.42,-0.78, -0.55];
const m120_blueMax = [0.4,0.28,0.3,0.27,0.29, 0.21,0.23,0.2,0.22,0.21, 0.19,0.2,0.18,0.19,0.2, 0.18,0.2,0.19,0.2,0.19, 0.19,0.2,0.18,0.19,0.19, 0.22,0.23,0.23,0.21,0.22,
  0.14,0.15,0.13,0.15,0.14, 0.13,0.14,0.12,0.13,0.13, 0.14,0.15,0.13,0.14,0.15, 0.2,0.21,0.21,0.2,0.19, 0.12,0.13,0.11,0.12,0.12, 0.1,0.11,0.1,0.11,0.1,
  0.19,0.2,0.18,0.19,0.2, 0.09,0.08,0.08,0.09,0.08, 0.08,0.09,0.09,0.1,0.09, 0.17,0.18,0.16,0.17,0.18, 0.2,0.21,0.19,0.21,0.2, 0.23,0.24,0.22,0.23,0.24,
  0.28,0.29,0.27,0.28,0.29, 0.35,0.37,0.36,0.38,0.36, 0.43,0.43,0.41,0.42,0.43, 0.36,0.37,0.35,0.36,0.36, 0.31,0.32,0.3,0.31,0.31, 0.29,0.3,0.28,0.29,0.28, 0.17,0.22,0.26,0.29,0.31, 0.33];
const m120_blueMin = [-0.33,-0.3,-0.31,-0.28,-0.3, -0.23,-0.24,-0.22,-0.23,-0.23, -0.21,-0.22,-0.2,-0.21,-0.22, -0.2,-0.22,-0.21,-0.22,-0.21, -0.21,-0.22,-0.2,-0.21,-0.21, -0.24,-0.25,-0.25,-0.23,-0.24,
  -0.15,-0.16,-0.14,-0.16,-0.15, -0.14,-0.15,-0.13,-0.14,-0.14, -0.16,-0.17,-0.15,-0.16,-0.17, -0.22,-0.24,-0.24,-0.23,-0.21, -0.13,-0.14,-0.12,-0.13,-0.13, -0.12,-0.12,-0.11,-0.12,-0.12,
  -0.21,-0.22,-0.2,-0.21,-0.22, -0.1,-0.1,-0.09,-0.1,-0.1, -0.1,-0.11,-0.1,-0.11,-0.1, -0.19,-0.2,-0.18,-0.19,-0.2, -0.23,-0.23,-0.21,-0.22,-0.22, -0.25,-0.26,-0.24,-0.25,-0.26,
  -0.3,-0.31,-0.29,-0.3,-0.31, -0.39,-0.41,-0.4,-0.42,-0.4, -0.46,-0.47,-0.45,-0.46,-0.46, -0.4,-0.41,-0.39,-0.4,-0.4, -0.35,-0.36,-0.34,-0.35,-0.35, -0.33,-0.34,-0.32,-0.33,-0.31, -0.19,-0.24,-0.28,-0.32,-0.34, -0.36];
const m120_blueSpikes = [[2014.0,0.45],[2015.03,0.63],[2015.84,0.78],[2018.0,0.55],
  [2015.03,-0.65],[2015.84,-0.72],[2017.19,-0.5]];
const m120_vol = [0.18,0.16,0.14,0.12,0.11,0.1,0.1,0.11,0.11,0.1, 0.13,0.11,0.08,0.08,0.07,0.07,0.08,0.08,0.12,0.1, 0.07,0.07,0.06,0.06,0.11,0.1,0.06,0.05,0.05,0.06, 0.1,0.11,0.12,0.12,0.13,0.12,0.14,0.16,0.19,0.21, 0.23,0.23,0.21,0.19,0.17,0.16,0.16,0.15,0.1,0.16, 0.18];

// panel table for the library (left/top = plot-area corner in page pixels)
const panels = [
  { left: 35,  top: 137, yMin: -60, yMax: 60, yTicks: m5_yTicks,   volWidth: 4,   redMax: m5_redMax,   redMin: m5_redMin,   blueMax: m5_blueMax,   blueMin: m5_blueMin,   blueSpikes: m5_blueSpikes,   vol: m5_vol },
  { left: 509, top: 137, yMin: -16, yMax: 16, yTicks: m15_yTicks,  volWidth: 6,   redMax: m15_redMax,  redMin: m15_redMin,  blueMax: m15_blueMax,  blueMin: m15_blueMin,  blueSpikes: m15_blueSpikes,  vol: m15_vol },
  { left: 984, top: 137, yMin: -10, yMax: 10, yTicks: m30_yTicks,  volWidth: 3,   redMax: m30_redMax,  redMin: m30_redMin,  blueMax: m30_blueMax,  blueMin: m30_blueMin,  blueSpikes: m30_blueSpikes,  vol: m30_vol },
  { left: 35,  top: 539, yMin: -11, yMax: 11, yTicks: m45_yTicks,  volWidth: 3,   redMax: m45_redMax,  redMin: m45_redMin,  blueMax: m45_blueMax,  blueMin: m45_blueMin,  blueSpikes: m45_blueSpikes,  vol: m45_vol },
  { left: 509, top: 539, yMin: -5,  yMax: 5,  yTicks: m60_yTicks,  volWidth: 2.5, redMax: m60_redMax,  redMin: m60_redMin,  blueMax: m60_blueMax,  blueMin: m60_blueMin,  blueSpikes: m60_blueSpikes,  vol: m60_vol },
  { left: 984, top: 539, yMin: -2,  yMax: 2,  yTicks: m120_yTicks, volWidth: 2.5, redMax: m120_redMax, redMin: m120_redMin, blueMax: m120_blueMax, blueMin: m120_blueMin, blueSpikes: m120_blueSpikes, vol: m120_vol }
];

const PLOT_W = 360, PLOT_H = 288, AXIS_W = 35, TITLE_H = 25, XAXIS_H = 20;
const axisFont = { family: '"Liberation Sans", Arial, sans-serif', size: 11 };

function line(ys) {
  return sampleYears.map((x, i) => ({ x: x, y: ys[i] }));
}
function ranges(lo, hi) {
  return binYears.map((x, i) => ({ x: x, y: [lo[i], hi[i]] }));
}
function spikes(list) {
  return list.map(s => ({ x: s[0], y: [0, s[1]] }));
}

// axes box with inward ticks
const framePlugin = {
  id: 'frame',
  afterDraw(chart) {
    const { ctx, chartArea: a } = chart;
    const x = chart.scales.x, y = chart.scales.y;
    ctx.save();
    ctx.strokeStyle = '#4a4a4a';
    ctx.lineWidth = 1;
    ctx.strokeRect(Math.round(a.left) + 0.5, Math.round(a.top) + 0.5, Math.round(a.width) - 1, Math.round(a.height) - 1);
    ctx.beginPath();
    y.ticks.forEach(t => {
      const py = Math.round(y.getPixelForValue(t.value)) + 0.5;
      ctx.moveTo(a.left, py); ctx.lineTo(a.left + 4, py);
      ctx.moveTo(a.right, py); ctx.lineTo(a.right - 4, py);
    });
    x.ticks.forEach(t => {
      const px = Math.round(x.getPixelForValue(t.value)) + 0.5;
      ctx.moveTo(px, a.top); ctx.lineTo(px, a.top + 4);
      ctx.moveTo(px, a.bottom); ctx.lineTo(px, a.bottom - 4);
    });
    ctx.stroke();
    ctx.restore();
  }
};

function makeLegend(p) {
  const box = document.createElement('div');
  box.className = 'legend';
  box.style.left = (p.left + PLOT_W - 10 - 79) + 'px';
  box.style.top = (p.top + 9) + 'px';
  const rows = [
    ['#ff1a1a', 1, 'Y<sub>t</sub>'],
    ['#7373ff', 2, 'Y<sub>t</sub>-&xi;<sub>t</sub>*J<sub>t</sub>'],
    ['#33ee33', 2, 'V<sub>t</sub>']
  ];
  rows.forEach((r, i) => {
    const row = document.createElement('div');
    row.className = 'row';
    row.style.top = (4 + i * 20.5) + 'px';
    row.innerHTML = '<div class="ln" style="background-color:' + r[0] + ';height:' + r[1] + 'px"></div><div class="tx">' + r[2] + '</div>';
    box.appendChild(row);
  });
  document.body.appendChild(box);
}

panels.forEach((p, idx) => {
  const wrap = document.createElement('div');
  wrap.className = 'panel';
  wrap.style.left = (p.left - AXIS_W) + 'px';
  wrap.style.top = (p.top - TITLE_H) + 'px';
  const canvas = document.createElement('canvas');
  canvas.width = AXIS_W + PLOT_W;
  canvas.height = TITLE_H + PLOT_H + XAXIS_H;
  wrap.appendChild(canvas);
  document.body.appendChild(wrap);

  new Chart(canvas.getContext('2d'), {
    type: 'line',
    data: {
      datasets: [
        { label: 'V_t', data: line(p.vol), borderColor: '#00ff00', borderWidth: p.volWidth, pointRadius: 0, fill: false, order: 0 },
        { type: 'bar', label: 'Y_t-xi_t*J_t', data: ranges(p.blueMin, p.blueMax), backgroundColor: '#0000ff', barThickness: 3.6, grouped: false, order: 1 },
        { type: 'bar', label: 'jump-free spikes', data: spikes(p.blueSpikes), backgroundColor: 'rgba(0,0,255,0.75)', barThickness: 1, grouped: false, order: 1 },
        { type: 'bar', label: 'Y_t', data: ranges(p.redMin, p.redMax), backgroundColor: 'rgba(255,0,0,0.75)', barThickness: 1.3, grouped: false, order: 2 }
      ]
    },
    options: {
      responsive: false,
      animation: false,
      events: [],
      layout: { padding: 0 },
      plugins: {
        legend: { display: false },
        tooltip: { enabled: false },
        title: {
          display: true,
          text: panelTitles[idx],
          color: '#000',
          font: { family: '"Liberation Sans", Arial, sans-serif', size: 12, weight: 'bold' },
          padding: { top: 5.8, bottom: 4.8 }
        }
      },
      scales: {
        x: {
          type: 'linear',
          min: 2014, max: 2019,
          offset: false,
          grid: { display: false, drawTicks: false },
          border: { display: false },
          afterBuildTicks: s => { s.ticks = xTickYears.map(v => ({ value: v })); },
          afterFit: s => { s.height = XAXIS_H; },
          ticks: { callback: v => String(v), color: '#262626', font: axisFont, padding: 5, maxRotation: 0, autoSkip: false }
        },
        y: {
          type: 'linear',
          min: p.yMin, max: p.yMax,
          grid: { display: false, drawTicks: false },
          border: { display: false },
          afterBuildTicks: s => { s.ticks = p.yTicks.map(v => ({ value: v })); },
          afterFit: s => { s.width = AXIS_W; },
          ticks: { callback: v => String(v), color: '#262626', font: axisFont, padding: 5, autoSkip: false }
        }
      }
    },
    plugins: [framePlugin]
  });

  makeLegend(p);
});

// fit the figure caption to the reference width
const cap = document.getElementById('figTitle');
const capW = cap.getBoundingClientRect().width;
cap.style.fontSize = (28 * 809 / capW).toFixed(2) + 'px';
</script>
</body>
</html>
